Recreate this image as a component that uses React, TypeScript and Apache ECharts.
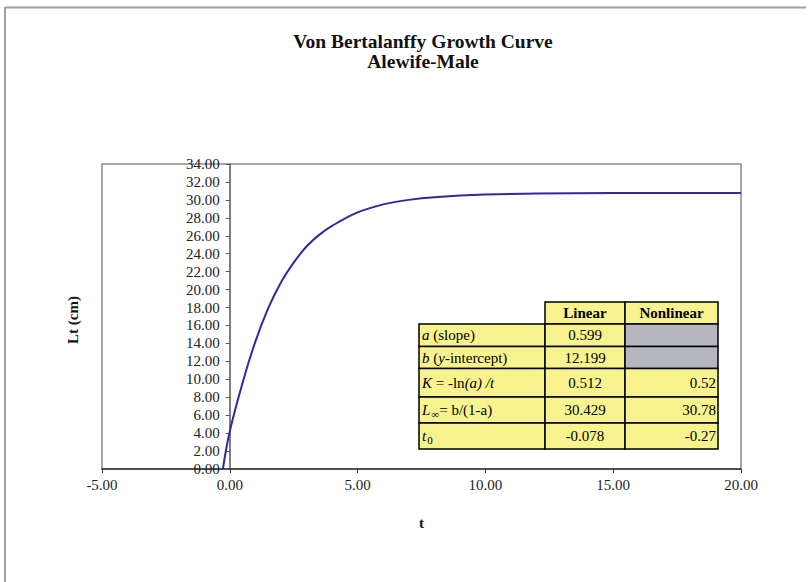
import React, { useEffect, useRef } from "react";
import * as echarts from "echarts";

// Curve values (t in years, Lt in cm)
const tValues = [-0.27, 0, 0.5, 1, 1.5, 2, 2.5, 3, 3.5, 4, 5, 6, 7, 8, 10, 12, 15, 20];
const ltValues = [0, 4.2, 9.6, 14.2, 17.9, 20.8, 23.0, 24.8, 26.1, 27.1, 28.6, 29.5, 30.0, 30.3, 30.6, 30.7, 30.76, 30.78];

const xTickMin = -5;
const xTickMax = 20;
const xTickStep = 5;
const yTickMin = 0;
const yTickMax = 34;
const yTickStep = 2;

const titleLines = ["Von Bertalanffy Growth Curve", "Alewife-Male"];
const xAxisTitle = "t";
const yAxisTitle = "Lt (cm)";

// Parameter table
const tableHeaders = ["Linear", "Nonlinear"];
const tableRowLabels = [
  "{i|a} (slope)",
  "{i|b} ({i|y}-intercept)",
  "{i|K} = -ln{i|(a) /t}",
  "{i|L}{sub|∞}= b/(1-a)",
  "{i|t}{sub|0}",
];
const linearValues = ["0.599", "12.199", "0.512", "30.429", "-0.078"];
const nonlinearValues = ["", "", "0.52", "30.78", "-0.27"];

const FONT = "'Liberation Serif', 'Times New Roman', serif";

export default function App() {
  const ref = useRef<HTMLDivElement>(null);

  useEffect(() => {
    if (!ref.current) return;
    const chart = echarts.init(ref.current, undefined, { renderer: "svg" });

    const gridLeft = 102;
    const gridRight = 67;
    const plotW = 808 - gridLeft - gridRight;
    const zeroX = gridLeft + ((0 - xTickMin) / (xTickMax - xTickMin)) * plotW;

    const colX = [419, 545, 625, 718];
    const rowY = [324, 346.5, 368.5, 397, 423, 449];
    const headTop = 302;
    const yellow = "#F7F38E";
    const grey = "#B6B6BE";

    const tableEls: any[] = [];
    tableHeaders.forEach((h, i) => {
      tableEls.push({
        type: "rect",
        shape: { x: colX[i + 1], y: headTop, width: colX[i + 2] - colX[i + 1], height: rowY[0] - headTop },
        style: { fill: yellow, stroke: "#000", lineWidth: 1.5 },
      });
      tableEls.push({
        type: "text",
        x: (colX[i + 1] + colX[i + 2]) / 2,
        y: (headTop + rowY[0]) / 2,
        style: { text: h, font: `bold 15px ${FONT}`, fill: "#000", align: "center", verticalAlign: "middle" },
      });
    });
    tableRowLabels.forEach((lab, r) => {
      const y0 = rowY[r];
      const y1 = rowY[r + 1];
      const h = y1 - y0;
      tableEls.push({
        type: "rect",
        shape: { x: colX[0], y: y0, width: colX[1] - colX[0], height: h },
        style: { fill: yellow, stroke: "#000", lineWidth: 1.5 },
      });
      tableEls.push({
        type: "rect",
        shape: { x: colX[1], y: y0, width: colX[2] - colX[1], height: h },
        style: { fill: yellow, stroke: "#000", lineWidth: 1.5 },
      });
      tableEls.push({
        type: "rect",
        shape: { x: colX[2], y: y0, width: colX[3] - colX[2], height: h },
        style: { fill: nonlinearValues[r] === "" ? grey : yellow, stroke: "#000", lineWidth: 1.5 },
      });
      tableEls.push({
        type: "text",
        x: colX[0] + 3,
        y: (y0 + y1) / 2,
        style: {
          text: lab,
          font: `15px ${FONT}`,
          fill: "#000",
          align: "left",
          verticalAlign: "middle",
          rich: {
            i: { fontFamily: FONT, fontSize: 15, fontStyle: "italic", fill: "#000" },
            sub: { fontFamily: FONT, fontSize: 11, fill: "#000", padding: [8, 0, 0, 1] },
          },
        },
      });
      tableEls.push({
        type: "text",
        x: (colX[1] + colX[2]) / 2,
        y: (y0 + y1) / 2,
        style: { text: linearValues[r], font: `15px ${FONT}`, fill: "#000", align: "center", verticalAlign: "middle" },
      });
      if (nonlinearValues[r] !== "") {
        tableEls.push({
          type: "text",
          x: colX[3] - 2,
          y: (y0 + y1) / 2,
          style: { text: nonlinearValues[r], font: `15px ${FONT}`, fill: "#000", align: "right", verticalAlign: "middle" },
        });
      }
    });

    const data = tValues.map((t, i) => [t, ltValues[i]]);

    chart.setOption({
      animation: false,
      backgroundColor: "#ffffff",
      title: {
        text: titleLines.join("\n"),
        left: 418,
        top: 26,
        textAlign: "center",
        textStyle: { fontFamily: FONT, fontWeight: "bold", fontSize: 19.5, lineHeight: 20, color: "#111" },
      },
      grid: {
        left: gridLeft,
        right: gridRight,
        top: 164,
        bottom: 113,
        show: true,
        borderColor: "#8a8a8a",
        borderWidth: 1.5,
        backgroundColor: "transparent",
      },
      xAxis: {
        type: "value",
        min: xTickMin,
        max: xTickMax,
        interval: xTickStep,
        axisLine: { onZero: true, lineStyle: { color: "#333", width: 1.5 } },
        axisTick: { show: true, length: 4, inside: false, lineStyle: { color: "#333" } },
        splitLine: { show: false },
        axisLabel: {
          fontFamily: FONT,
          fontSize: 15,
          color: "#222",
          margin: 8,
          formatter: (v: number) => v.toFixed(2),
        },
        name: xAxisTitle,
        nameLocation: "middle",
        nameGap: 46,
        nameTextStyle: { fontFamily: FONT, fontWeight: "bold", fontSize: 15, color: "#111" },
      },
      yAxis: {
        type: "value",
        min: yTickMin,
        max: yTickMax,
        interval: yTickStep,
        axisLine: { show: true, onZero: true, lineStyle: { color: "#555", width: 1.5 } },
        axisTick: { show: true, length: 4, inside: false, lineStyle: { color: "#555" } },
        splitLine: { show: false },
        axisLabel: {
          fontFamily: FONT,
          fontSize: 15,
          color: "#222",
          margin: -(zeroX - gridLeft - 10),
          formatter: (v: number) => v.toFixed(2),
        },
      },
      graphic: [
        { type: "line", shape: { x1: 5, y1: 7.5, x2: 806, y2: 7.5 }, style: { stroke: "#a0a0a0", lineWidth: 2 } },
        { type: "line", shape: { x1: 5, y1: 7, x2: 5, y2: 582 }, style: { stroke: "#a0a0a0", lineWidth: 2 } },
        {
          type: "text",
          x: 73,
          y: 320,
          rotation: Math.PI / 2,
          style: { text: yAxisTitle, font: `bold 15px ${FONT}`, fill: "#111", align: "center", verticalAlign: "middle" },
        },
        ...tableEls,
      ],
      series: [
        {
          type: "line",
          data,
          smooth: 0.4,
          showSymbol: false,
          lineStyle: { color: "#2f2a9e", width: 2 },
        },
      ],
    });

    return () => chart.dispose();
  }, []);

  return (
    <div
      ref={ref}
      style={{ position: "fixed", left: 0, top: 0, width: 808, height: 582 }}
    />
  );
}
